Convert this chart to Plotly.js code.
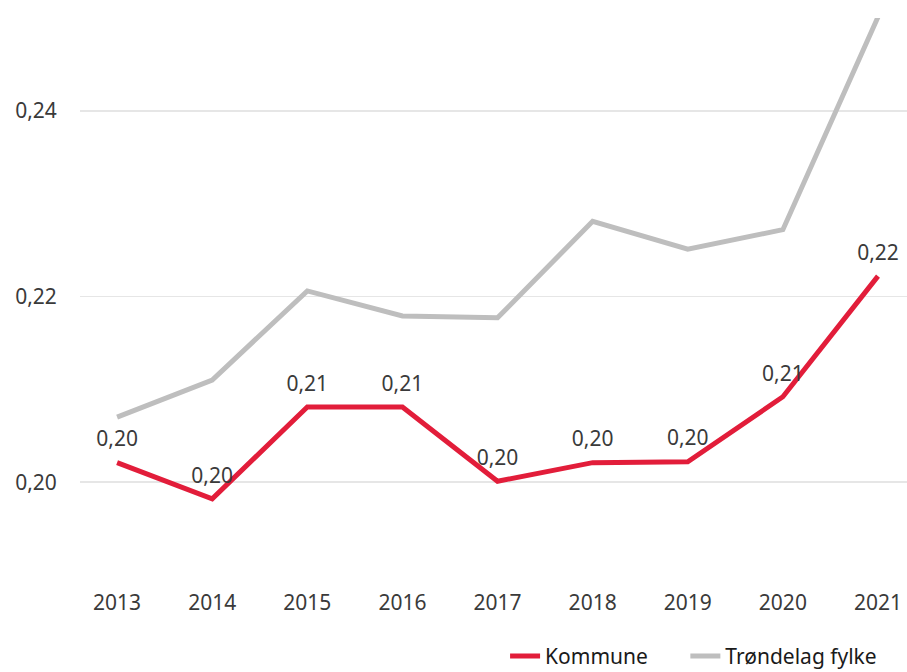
<!DOCTYPE html>
<html>
<head>
<meta charset="utf-8">
<script src="https://cdn.plot.ly/plotly-3.0.1.min.js"></script>
<style>html,body{margin:0;padding:0;background:#fff}#chart{width:907px;height:672px}</style>
</head>
<body>
<div id="chart"></div>
<script>
const years = ['2013','2014','2015','2016','2017','2018','2019','2020','2021'];
const kommune = [0.2021, 0.1982, 0.2081, 0.2081, 0.2001, 0.2021, 0.2022, 0.2092, 0.2222];
const fylke = [0.2070, 0.2110, 0.2206, 0.2179, 0.2177, 0.2281, 0.2251, 0.2272, 0.2501];
const yTicks = [0.20, 0.22, 0.24];

const font = '"Noto Sans", "Open Sans", sans-serif';

const traces = [
  {
    x: years, y: fylke, name: 'Trøndelag fylke', type: 'scatter', mode: 'lines',
    line: {color: '#BEBEBE', width: 5}, legend: 'legend2',
    hoverinfo: 'skip', cliponaxis: false
  },
  {
    x: years, y: kommune, name: 'Kommune', type: 'scatter', mode: 'lines+markers+text',
    line: {color: '#E21D3A', width: 5},
    marker: {size: 16, color: 'rgba(0,0,0,0)'},
    texttemplate: '%{y:.2f}', textposition: 'top center',
    textfont: {family: font, size: 21, color: '#3a3a3a'},
    hoverinfo: 'skip', cliponaxis: false
  }
];

const legendBase = {
  orientation: 'h', xanchor: 'left', y: -0.146, yanchor: 'middle',
  font: {family: font, size: 21, color: '#1a1a1a'}, itemwidth: 30
};

const layout = {
  width: 907, height: 672,
  margin: {l: 80, r: 0, t: 18, b: 97, autoexpand: false},
  paper_bgcolor: '#fff', plot_bgcolor: '#fff',
  separators: ', ',
  font: {family: font, size: 21, color: '#3a3a3a'},
  showlegend: true,
  legend: Object.assign({}, legendBase, {x: 0.514}),
  legend2: Object.assign({}, legendBase, {x: 0.732}),
  xaxis: {
    type: 'category', range: [-0.39, 8.305],
    showgrid: false, zeroline: false, showline: false,
    ticks: 'outside', ticklen: 9, tickcolor: 'rgba(0,0,0,0)',
    tickfont: {family: font, size: 21, color: '#3a3a3a'}
  },
  yaxis: {
    range: [0.19, 0.25], tickvals: yTicks, tickformat: '.2f',
    showgrid: true, gridcolor: '#E6E6E6', gridwidth: 1.5,
    zeroline: false, showline: false,
    ticks: 'outside', ticklen: 18, tickcolor: 'rgba(0,0,0,0)',
    tickfont: {family: font, size: 21, color: '#3a3a3a'}
  }
};

Plotly.newPlot('chart', traces, layout, {staticPlot: true, displayModeBar: false});
</script>
</body>
</html>
